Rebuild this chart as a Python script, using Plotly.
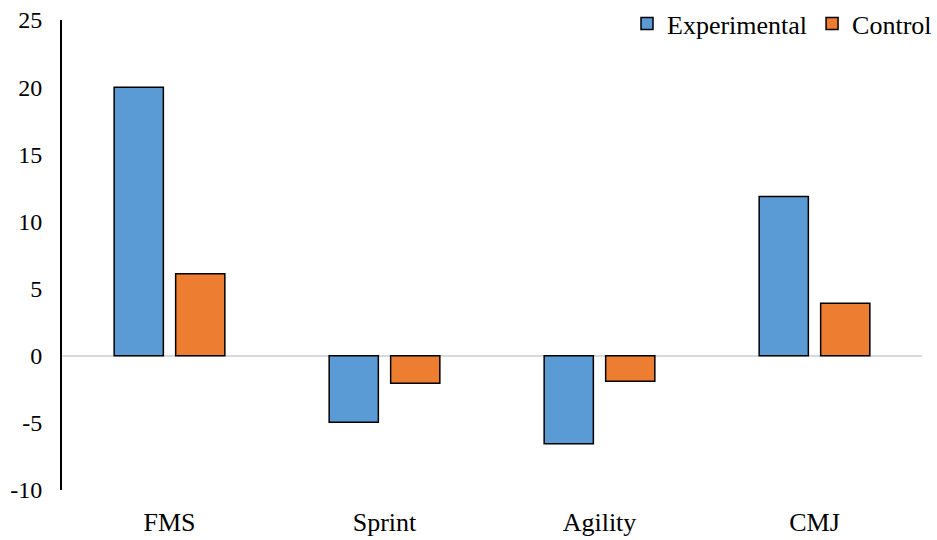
import plotly.graph_objects as go

categories = ["FMS", "Sprint", "Agility", "CMJ"]
experimental = [20.0, -4.95, -6.55, 11.85]
control = [6.1, -2.05, -1.9, 3.9]
y_ticks = [-10, -5, 0, 5, 10, 15, 20, 25]

FONT = "Liberation Serif"

fig = go.Figure()
fig.add_trace(go.Bar(
    name="Experimental", x=categories, y=experimental,
    marker=dict(color="#5b9bd5", line=dict(color="#000000", width=1.5)),
))
fig.add_trace(go.Bar(
    name="Control", x=categories, y=control,
    marker=dict(color="#ed7d31", line=dict(color="#000000", width=1.5)),
))

fig.update_layout(
    width=937, height=540,
    margin=dict(l=62, r=15, t=20, b=50, autoexpand=False),
    paper_bgcolor="white", plot_bgcolor="white",
    barmode="group", bargap=0.428, bargroupgap=0.2,
    font=dict(family=FONT, size=26, color="#000000"),
    legend=dict(
        orientation="h", xref="container", yref="container",
        x=1.0, xanchor="right", y=1.0, yanchor="top",
        font=dict(family=FONT, size=26), itemwidth=30,
        bgcolor="rgba(0,0,0,0)", traceorder="normal",
    ),
    xaxis=dict(
        showline=False, showgrid=False, zeroline=False, ticks="",
        automargin=False, ticklabelstandoff=14,
        tickfont=dict(family=FONT, size=26),
    ),
    yaxis=dict(
        range=[-10, 25], tickvals=y_ticks, ticktext=[str(v) for v in y_ticks],
        showgrid=False, showline=True, linecolor="#000000", linewidth=2,
        zeroline=True, zerolinecolor="#d9d9d9", zerolinewidth=2,
        ticks="", automargin=False, ticklabelstandoff=13,
        tickfont=dict(family=FONT, size=24),
    ),
)

fig.write_html("out.html")
